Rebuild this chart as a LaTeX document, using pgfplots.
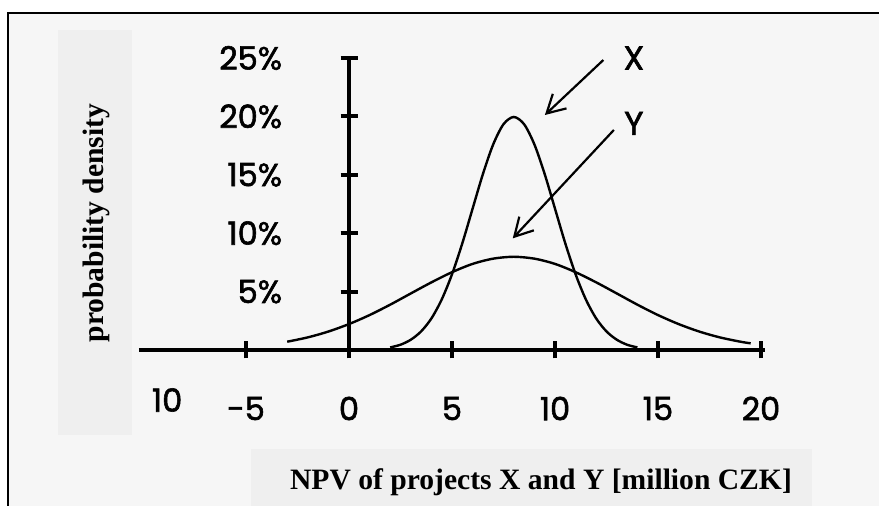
\documentclass[border=0pt]{standalone}
\usepackage{fontspec}
\setmainfont{Liberation Serif}
\newfontfamily\tickfont{Poppins}[FakeBold=1.8]
\usepackage{pgfplots}
\pgfplotsset{compat=1.18}
\usetikzlibrary{arrows.meta}
\definecolor{bg}{HTML}{F6F6F6}
\definecolor{boxc}{HTML}{EFEFEF}
\begin{document}
\begin{tikzpicture}
\begin{scope}[x=0.5pt,y=0.5pt]
\useasboundingbox (0,0) rectangle (879,506);
\fill[white] (0,0) rectangle (879,506);
\fill[bg] (8,0) rectangle (879,493);
\fill[boxc] (58,71) rectangle (132,476);
\fill[boxc] (251,0) rectangle (812,57);
\draw[line width=1pt] (8,0) -- (8,493) -- (879,493);
\node[font=\bfseries\fontsize{14.8}{17}\selectfont, rotate=90, anchor=base, inner sep=0pt] at (103.5,283) {probability density};
\node[font=\bfseries\fontsize{14.8}{17}\selectfont, anchor=base, inner sep=0pt] at (541,16) {NPV of projects X and Y [million CZK]};
\end{scope}
\begin{axis}[
  at={(174.5pt,78pt)}, anchor=origin,
  scale only axis, width=313.1pt, height=146pt,
  axis lines=middle, axis line style={line width=2pt, -},
  xmin=-10.2, xmax=20.2, ymin=0, ymax=25,
  clip=false,
  xtick={-5,0,5,10,15,20}, xticklabels={-5,0,5,10,15,20},
  ytick={5,10,15,20,25}, yticklabels={5\%,10\%,15\%,20\%,25\%},
  extra x ticks={-8.83}, extra x tick labels={10},
  extra x tick style={major tick length=0pt},
  hide obscured x ticks=false,
  tick align=center, major tick length=8.5pt,
  every tick/.style={line width=2pt, black},
  major tick style={line width=2pt, black},
  xticklabel style={font=\tickfont\fontsize{16}{19}\selectfont, anchor=center, inner sep=0pt, yshift=-25pt},
  yticklabel style={font=\tickfont\fontsize{16}{19}\selectfont, anchor=east, inner sep=0pt, xshift=-29pt},
]
\addplot[black, line width=1.2pt, smooth] coordinates {
(-3,0.71) (-2,1.08) (-1,1.58) (0,2.22) (1,2.99) (2,3.88) (3,4.84) (4,5.79)
(5,6.66) (6,7.37) (7,7.82) (8,7.98) (9,7.82) (10,7.37) (11,6.66) (12,5.79)
(13,4.84) (14,3.88) (15,2.99) (16,2.22) (17,1.58) (18,1.08) (19,0.71) (19.5,0.57)
};
\addplot[black, line width=1.2pt, smooth] coordinates {
(2,0.22) (2.5,0.45) (3,0.88) (3.5,1.59) (4,2.70) (4.5,4.32) (5,6.48) (5.5,9.13)
(6,12.10) (6.5,15.06) (7,17.60) (7.5,19.33) (8,19.95) (8.5,19.33) (9,17.60)
(9.5,15.06) (10,12.10) (10.5,9.13) (11,6.48) (11.5,4.32) (12,2.70) (12.5,1.59)
(13,0.88) (13.5,0.45) (14,0.22)
};
\draw[line width=1.1pt, -{Straight Barb[length=9pt,width=10pt]}] (axis cs:12.35,24.83) -- (axis cs:9.51,20.12);
\draw[line width=1.1pt, -{Straight Barb[length=9pt,width=10pt]}] (axis cs:12.86,18.84) -- (axis cs:7.95,9.56);
\node[font=\tickfont\fontsize{16.5}{19}\selectfont] at (axis cs:13.83,25.0) {X};
\node[font=\tickfont\fontsize{16.5}{19}\selectfont] at (axis cs:13.83,19.4) {Y};
\end{axis}
\end{tikzpicture}
\end{document}
